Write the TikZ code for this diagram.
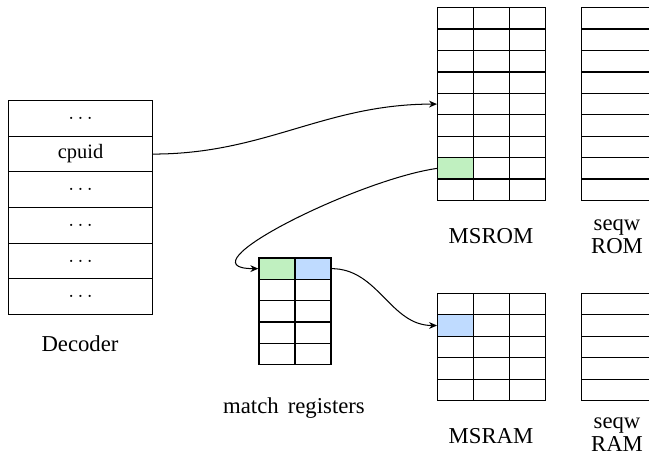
\documentclass[tikz,border=0pt]{standalone}
\usepackage{fontspec}
\setmainfont{Liberation Serif}
\usetikzlibrary{arrows.meta}
\definecolor{cellgreen}{RGB}{192,240,192}
\definecolor{cellblue}{RGB}{191,219,255}
\tikzset{
  cell/.style={draw, line width=0.55pt, inner sep=0pt, anchor=north west,
    minimum width=15.84pt, minimum height=9.42pt},
  deccell/.style={draw, line width=0.5pt, inner sep=0pt, anchor=north west,
    minimum width=63.1pt, minimum height=15.69pt, font=\small},
  wide/.style={draw, line width=0.55pt, inner sep=0pt, anchor=north west,
    minimum width=31.68pt, minimum height=9.42pt},
  lbl/.style={anchor=base, inner sep=0pt},
  link/.style={line width=0.45pt, -{Stealth[length=3.5pt,width=3pt]}},
}
\begin{document}
\begin{tikzpicture}[x=0.44pt, y=-0.44pt]
\useasboundingbox (0,0) rectangle (649,457);
% Decoder
\foreach \r/\t in {0/$\ldots$,1/cpuid,2/$\ldots$,3/$\ldots$,4/$\ldots$,5/$\ldots$}
  \node[deccell] (dec-\r) at (8.3, 100+35.67*\r) {\t};
\node[lbl] (declbl) at (80,351) {Decoder};
% MSROM
\foreach \r in {0,...,8} \foreach \c in {0,1,2}
  \node[cell] (rom-\r-\c) at (437+36*\c, 7+21.44*\r) {};
\node[cell, fill=cellgreen] (romg) at (437, 7+21.44*7) {};
\node[lbl] (romlbl) at (491,243) {MSROM};
% seqw ROM
\foreach \r in {0,...,8}
  \node[wide] (srom-\r) at (581, 7+21.44*\r) {};
\node[lbl] (sromlbl1) at (617,230) {seqw};
\node[lbl] (sromlbl2) at (617,253) {ROM};
% match registers
\foreach \r in {0,...,4} \foreach \c in {0,1}
  \node[cell] (mr-\r-\c) at (258.3+36*\c, 257.3+21.34*\r) {};
\node[cell, fill=cellgreen] (mrg) at (258.3, 257.3) {};
\node[cell, fill=cellblue] (mrb) at (294.3, 257.3) {};
\node[lbl] (mrlbl) at (294,413) {match\hspace{4pt}registers};
% MSRAM
\foreach \r in {0,...,4} \foreach \c in {0,1,2}
  \node[cell] (ram-\r-\c) at (437+36*\c, 292.7+21.46*\r) {};
\node[cell, fill=cellblue] (ramb) at (437, 292.7+21.46) {};
\node[lbl] (ramlbl) at (491,443) {MSRAM};
% seqw RAM
\foreach \r in {0,...,4}
  \node[wide] (sram-\r) at (581, 292.7+21.46*\r) {};
\node[lbl] (sramlbl1) at (617,428) {seqw};
\node[lbl] (sramlbl2) at (617,451) {RAM};
% connectors
\draw[link] (dec-1.east) to[out=0,in=180] (rom-4-0.west);
\draw[link] (romg.west) to[out=188,in=180] (mrg.west);
\draw[link] (mrb.east) to[out=0,in=180] (ramb.west);
\end{tikzpicture}
\end{document}
